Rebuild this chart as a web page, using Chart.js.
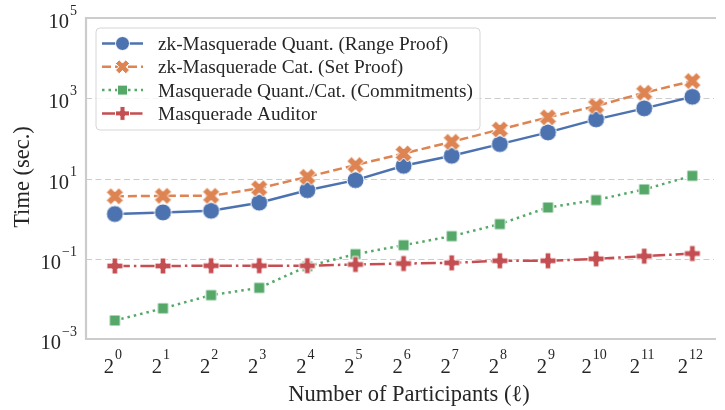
<!DOCTYPE html>
<html>
<head>
<meta charset="utf-8">
<script src="https://cdn.jsdelivr.net/npm/chart.js@4.4.1/dist/chart.umd.min.js"></script>
<style>
  html, body { margin: 0; padding: 0; background: #fff; }
</style>
</head>
<body>
<canvas id="timechart" width="725" height="410"></canvas>
<script>
// x positions are exponents of 2 (number of participants = 2^k)
const exps = [0, 1, 2, 3, 4, 5, 6, 7, 8, 9, 10, 11, 12];
const rangeProof = [1.3, 1.43, 1.57, 2.5, 5.1, 9.1, 20.7, 36.8, 72, 141, 298, 560, 1089];
const setProof = [3.6, 3.7, 3.7, 5.7, 11, 21.6, 42, 82, 167, 334, 640, 1370, 2690];
const commitments = [0.0029, 0.0058, 0.0124, 0.0188, 0.065, 0.13, 0.218, 0.366, 0.73, 1.9, 2.9, 5.35, 11.7];
const auditor = [0.066, 0.066, 0.067, 0.067, 0.067, 0.072, 0.076, 0.079, 0.089, 0.089, 0.0995, 0.116, 0.135];
const yTickExps = [-3, -1, 1, 3, 5];

const seriesNames = [
    'zk-Masquerade Quant. (Range Proof)',
    'zk-Masquerade Cat. (Set Proof)',
    'Masquerade Quant./Cat. (Commitments)',
    'Masquerade Auditor'
];
const colors = ['#4c72b0', '#dd8452', '#55a868', '#c44e52'];
const dashes = [[], [9, 4], [2.5, 4], [15, 4, 2.5, 4]];
const shapes = ['circle', 'x', 'square', 'plus'];
const plotSizes = [17, 17, 11, 16];
const legendSizes = [14, 14, 10, 14];

const textColor = '#262626';
const serif = '"Liberation Serif", "DejaVu Serif", serif';

// draws a seaborn-like marker shape at (cx, cy)
function markerPath(ctx, shape, cx, cy, size) {
    const h = size / 2;
    ctx.beginPath();
    if (shape === 'circle') {
        ctx.arc(cx, cy, h, 0, Math.PI * 2);
    } else if (shape === 'square') {
        ctx.rect(cx - h, cy - h, size, size);
    } else {
        let arm, w, rot;
        if (shape === 'plus') {
            arm = h; w = h * 0.36; rot = 0;
        } else {
            arm = h * Math.SQRT2 / 1.36; w = arm * 0.36; rot = Math.PI / 4;
        }
        const pts = [[-w, -arm], [w, -arm], [w, -w], [arm, -w], [arm, w], [w, w],
                     [w, arm], [-w, arm], [-w, w], [-arm, w], [-arm, -w], [-w, -w]];
        pts.forEach((p, i) => {
            const px = cx + p[0] * Math.cos(rot) - p[1] * Math.sin(rot);
            const py = cy + p[0] * Math.sin(rot) + p[1] * Math.cos(rot);
            if (i === 0) ctx.moveTo(px, py); else ctx.lineTo(px, py);
        });
        ctx.closePath();
    }
}

function drawMarker(ctx, shape, cx, cy, size, color) {
    markerPath(ctx, shape, cx, cy, size);
    ctx.fillStyle = color;
    ctx.fill();
    ctx.lineWidth = 1;
    ctx.strokeStyle = '#ffffff';
    ctx.setLineDash([]);
    ctx.stroke();
}

function makeMarker(shape, size, color) {
    const c = document.createElement('canvas');
    c.width = size + 4;
    c.height = size + 4;
    drawMarker(c.getContext('2d'), shape, c.width / 2, c.height / 2, size, color);
    return c;
}

function drawPow(ctx, base, exp, x, baseline, align, bSize, eSize, rise) {
    ctx.font = bSize + 'px ' + serif;
    const bw = ctx.measureText(base).width;
    ctx.font = eSize + 'px ' + serif;
    const ew = ctx.measureText(exp).width;
    const total = bw + 1 + ew;
    let sx = align === 'right' ? x - total : x - total / 2;
    ctx.textAlign = 'left';
    ctx.textBaseline = 'alphabetic';
    ctx.fillStyle = textColor;
    ctx.font = bSize + 'px ' + serif;
    ctx.fillText(base, sx, baseline);
    ctx.font = eSize + 'px ' + serif;
    ctx.fillText(exp, sx + bw + 1, baseline - rise);
}

const allSeries = [rangeProof, setProof, commitments, auditor];
const datasets = allSeries.map((vals, i) => ({
    label: seriesNames[i],
    data: exps.map((e, j) => ({ x: e, y: vals[j] })),
    borderColor: colors[i],
    backgroundColor: colors[i],
    borderWidth: 2.5,
    borderDash: dashes[i],
    pointStyle: makeMarker(shapes[i], plotSizes[i], colors[i]),
    pointRadius: plotSizes[i] / 2,
    tension: 0,
    order: 4 - i,
    clip: false
}));

const decor = {
    id: 'decor',
    beforeDatasetsDraw(chart) {
        const { ctx, chartArea: a, scales: { y } } = chart;
        ctx.save();
        ctx.strokeStyle = '#cccccc';
        ctx.lineWidth = 1.2;
        ctx.setLineDash([6, 3.5]);
        yTickExps.forEach(e => {
            const py = Math.round(y.getPixelForValue(Math.pow(10, e))) + 0.5;
            ctx.beginPath();
            ctx.moveTo(a.left, py);
            ctx.lineTo(a.right, py);
            ctx.stroke();
        });
        ctx.setLineDash([]);
        ctx.lineWidth = 2.2;
        ctx.beginPath();
        ctx.moveTo(a.right + 2, a.top);
        ctx.lineTo(a.left, a.top);
        ctx.lineTo(a.left, a.bottom);
        ctx.lineTo(a.right + 2, a.bottom);
        ctx.stroke();
        ctx.restore();
    },
    afterDraw(chart) {
        const { ctx, scales: { x, y } } = chart;
        ctx.save();
        // y tick labels
        yTickExps.forEach(e => {
            const py = y.getPixelForValue(Math.pow(10, e));
            drawPow(ctx, '10', e < 0 ? '\u2212' + Math.abs(e) : String(e), 77, py + 10, 'right', 20.5, 14, 13);
        });
        // x tick labels
        exps.forEach(e => {
            const px = x.getPixelForValue(e);
            drawPow(ctx, '2', String(e), px - 2, 373, 'center', 20.5, 14, 14);
        });
        // axis titles
        ctx.fillStyle = textColor;
        ctx.font = '22.5px ' + serif;
        ctx.textAlign = 'center';
        ctx.textBaseline = 'alphabetic';
        ctx.fillText('Number of Participants (\u2113)', 409, 401);
        ctx.save();
        ctx.translate(29, 177);
        ctx.rotate(-Math.PI / 2);
        ctx.fillText('Time (sec.)', 0, 0);
        ctx.restore();

        // legend box
        const lx = 96, ly = 28, lw = 384, lh = 102, r = 4;
        ctx.beginPath();
        ctx.moveTo(lx + r, ly);
        ctx.arcTo(lx + lw, ly, lx + lw, ly + lh, r);
        ctx.arcTo(lx + lw, ly + lh, lx, ly + lh, r);
        ctx.arcTo(lx, ly + lh, lx, ly, r);
        ctx.arcTo(lx, ly, lx + lw, ly, r);
        ctx.closePath();
        ctx.fillStyle = 'rgba(255,255,255,0.8)';
        ctx.fill();
        ctx.strokeStyle = '#d6d6d6';
        ctx.lineWidth = 1;
        ctx.stroke();

        seriesNames.forEach((name, i) => {
            const base = 50 + i * 23.3;
            const my = base - 6.5;
            ctx.strokeStyle = colors[i];
            ctx.lineWidth = 2.5;
            ctx.setLineDash(dashes[i]);
            ctx.beginPath();
            ctx.moveTo(102, my);
            ctx.lineTo(143, my);
            ctx.stroke();
            ctx.setLineDash([]);
            drawMarker(ctx, shapes[i], 122.5, my, legendSizes[i], colors[i]);
            ctx.fillStyle = textColor;
            ctx.font = '19.3px ' + serif;
            ctx.textAlign = 'left';
            ctx.fillText(name, 158, base);
        });
        ctx.restore();
    }
};

new Chart(document.getElementById('timechart'), {
    type: 'line',
    data: { datasets: datasets },
    options: {
        responsive: false,
        animation: false,
        layout: { padding: { top: 18, left: 0, right: 0, bottom: 0 } },
        plugins: {
            legend: { display: false },
            tooltip: { enabled: false }
        },
        scales: {
            x: {
                type: 'linear',
                min: -0.6,
                max: 12.45,
                grid: { display: false, drawTicks: false },
                border: { display: false },
                ticks: { display: false },
                afterFit: s => { s.height = 71; }
            },
            y: {
                type: 'logarithmic',
                min: 1e-3,
                max: 1e5,
                grid: { display: false, drawTicks: false },
                border: { display: false },
                ticks: { display: false },
                afterFit: s => { s.width = 86; }
            }
        }
    },
    plugins: [decor]
});
</script>
</body>
</html>
